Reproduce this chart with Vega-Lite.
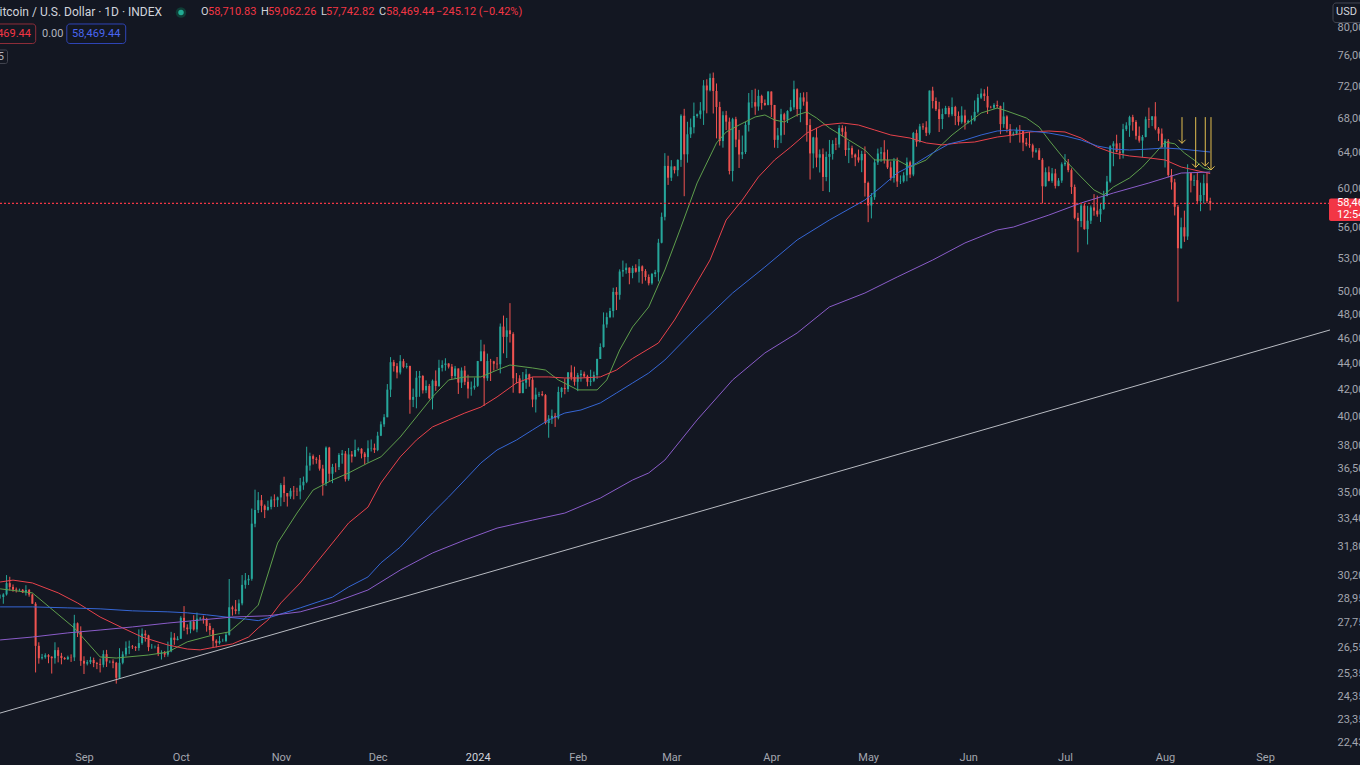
{
"$schema": "https://vega.github.io/schema/vega-lite/v6.json",
"width": 1330, "height": 745,
"autosize": {"type": "none"},
"padding": {"left": 0, "top": 0, "right": 30, "bottom": 20},
"background": "#131722",
"config": {"view": {"stroke": null}, "font": "Roboto"},
"datasets": {
"candles": [
{"d":"2023-08-06","o":29040,"h":29170,"l":28960,"c":29050},
{"d":"2023-08-07","o":29050,"h":29240,"l":28700,"c":29180},
{"d":"2023-08-08","o":29180,"h":30200,"l":29120,"c":29770},
{"d":"2023-08-09","o":29770,"h":30110,"l":29380,"c":29570},
{"d":"2023-08-10","o":29570,"h":29700,"l":29320,"c":29430},
{"d":"2023-08-11","o":29430,"h":29540,"l":29280,"c":29400},
{"d":"2023-08-12","o":29400,"h":29480,"l":29360,"c":29420},
{"d":"2023-08-13","o":29420,"h":29460,"l":29250,"c":29280},
{"d":"2023-08-14","o":29280,"h":29660,"l":29120,"c":29410},
{"d":"2023-08-15","o":29410,"h":29460,"l":29060,"c":29170},
{"d":"2023-08-16","o":29170,"h":29220,"l":28700,"c":28700},
{"d":"2023-08-17","o":28700,"h":28780,"l":25400,"c":26630},
{"d":"2023-08-18","o":26630,"h":26800,"l":25800,"c":26050},
{"d":"2023-08-19","o":26050,"h":26250,"l":25990,"c":26100},
{"d":"2023-08-20","o":26100,"h":26280,"l":26030,"c":26190},
{"d":"2023-08-21","o":26190,"h":26240,"l":25820,"c":26120},
{"d":"2023-08-22","o":26120,"h":26140,"l":25350,"c":26050},
{"d":"2023-08-23","o":26050,"h":26800,"l":25800,"c":26430},
{"d":"2023-08-24","o":26430,"h":26560,"l":25860,"c":26160},
{"d":"2023-08-25","o":26160,"h":26300,"l":25770,"c":26060},
{"d":"2023-08-26","o":26060,"h":26110,"l":25980,"c":26010},
{"d":"2023-08-27","o":26010,"h":26170,"l":25970,"c":26100},
{"d":"2023-08-28","o":26100,"h":26230,"l":25880,"c":26090},
{"d":"2023-08-29","o":26090,"h":28140,"l":25920,"c":27720},
{"d":"2023-08-30","o":27720,"h":27760,"l":27050,"c":27300},
{"d":"2023-08-31","o":27300,"h":27570,"l":25700,"c":25930},
{"d":"2023-09-01","o":25930,"h":26140,"l":25330,"c":25800},
{"d":"2023-09-02","o":25800,"h":25970,"l":25720,"c":25870},
{"d":"2023-09-03","o":25870,"h":26120,"l":25780,"c":25970},
{"d":"2023-09-04","o":25970,"h":26080,"l":25640,"c":25830},
{"d":"2023-09-05","o":25830,"h":25880,"l":25550,"c":25790},
{"d":"2023-09-06","o":25790,"h":26030,"l":25400,"c":25750},
{"d":"2023-09-07","o":25750,"h":26420,"l":25630,"c":26240},
{"d":"2023-09-08","o":26240,"h":26440,"l":25650,"c":25900},
{"d":"2023-09-09","o":25900,"h":25950,"l":25820,"c":25900},
{"d":"2023-09-10","o":25900,"h":26000,"l":25590,"c":25840},
{"d":"2023-09-11","o":25840,"h":25880,"l":24900,"c":25160},
{"d":"2023-09-12","o":25160,"h":26520,"l":25140,"c":25840},
{"d":"2023-09-13","o":25840,"h":26370,"l":25770,"c":26230},
{"d":"2023-09-14","o":26230,"h":26840,"l":26130,"c":26540},
{"d":"2023-09-15","o":26540,"h":26880,"l":26240,"c":26600},
{"d":"2023-09-16","o":26600,"h":26670,"l":26480,"c":26570},
{"d":"2023-09-17","o":26570,"h":26620,"l":26390,"c":26530},
{"d":"2023-09-18","o":26530,"h":27420,"l":26400,"c":26760},
{"d":"2023-09-19","o":26760,"h":27470,"l":26680,"c":27210},
{"d":"2023-09-20","o":27210,"h":27380,"l":26830,"c":27130},
{"d":"2023-09-21","o":27130,"h":27160,"l":26380,"c":26570},
{"d":"2023-09-22","o":26570,"h":26720,"l":26490,"c":26580},
{"d":"2023-09-23","o":26580,"h":26640,"l":26510,"c":26580},
{"d":"2023-09-24","o":26580,"h":26720,"l":26150,"c":26250},
{"d":"2023-09-25","o":26250,"h":26420,"l":25990,"c":26300},
{"d":"2023-09-26","o":26300,"h":26390,"l":26100,"c":26220},
{"d":"2023-09-27","o":26220,"h":26830,"l":26120,"c":26370},
{"d":"2023-09-28","o":26370,"h":27300,"l":26330,"c":27020},
{"d":"2023-09-29","o":27020,"h":27240,"l":26680,"c":26910},
{"d":"2023-09-30","o":26910,"h":27090,"l":26890,"c":26970},
{"d":"2023-10-01","o":26970,"h":28070,"l":26960,"c":27990},
{"d":"2023-10-02","o":27990,"h":28580,"l":27350,"c":27510},
{"d":"2023-10-03","o":27510,"h":27670,"l":27180,"c":27430},
{"d":"2023-10-04","o":27430,"h":27830,"l":27230,"c":27800},
{"d":"2023-10-05","o":27800,"h":28120,"l":27360,"c":27420},
{"d":"2023-10-06","o":27420,"h":28250,"l":27280,"c":27950},
{"d":"2023-10-07","o":27950,"h":28030,"l":27880,"c":27970},
{"d":"2023-10-08","o":27970,"h":28100,"l":27700,"c":27940},
{"d":"2023-10-09","o":27940,"h":27990,"l":27310,"c":27590},
{"d":"2023-10-10","o":27590,"h":27730,"l":27150,"c":27390},
{"d":"2023-10-11","o":27390,"h":27480,"l":26570,"c":26870},
{"d":"2023-10-12","o":26870,"h":26940,"l":26560,"c":26760},
{"d":"2023-10-13","o":26760,"h":27100,"l":26700,"c":26860},
{"d":"2023-10-14","o":26860,"h":26970,"l":26820,"c":26860},
{"d":"2023-10-15","o":26860,"h":27280,"l":26800,"c":27160},
{"d":"2023-10-16","o":27160,"h":29990,"l":27120,"c":28520},
{"d":"2023-10-17","o":28520,"h":28600,"l":28100,"c":28420},
{"d":"2023-10-18","o":28420,"h":28890,"l":28170,"c":28330},
{"d":"2023-10-19","o":28330,"h":28920,"l":28160,"c":28720},
{"d":"2023-10-20","o":28720,"h":30200,"l":28620,"c":29680},
{"d":"2023-10-21","o":29680,"h":30310,"l":29480,"c":29920},
{"d":"2023-10-22","o":29920,"h":30200,"l":29670,"c":30000},
{"d":"2023-10-23","o":30000,"h":33990,"l":29900,"c":33090},
{"d":"2023-10-24","o":33090,"h":35150,"l":32880,"c":33900},
{"d":"2023-10-25","o":33900,"h":35000,"l":33720,"c":34500},
{"d":"2023-10-26","o":34500,"h":34820,"l":33770,"c":34160},
{"d":"2023-10-27","o":34160,"h":34240,"l":33420,"c":33910},
{"d":"2023-10-28","o":33910,"h":34470,"l":33860,"c":34090},
{"d":"2023-10-29","o":34090,"h":34730,"l":33940,"c":34540},
{"d":"2023-10-30","o":34540,"h":34860,"l":34080,"c":34500},
{"d":"2023-10-31","o":34500,"h":34720,"l":34090,"c":34670},
{"d":"2023-11-01","o":34670,"h":35560,"l":34130,"c":35440},
{"d":"2023-11-02","o":35440,"h":35970,"l":34390,"c":34940},
{"d":"2023-11-03","o":34940,"h":34940,"l":34110,"c":34730},
{"d":"2023-11-04","o":34730,"h":35250,"l":34580,"c":35080},
{"d":"2023-11-05","o":35080,"h":35380,"l":34550,"c":35050},
{"d":"2023-11-06","o":35050,"h":35270,"l":34760,"c":35040},
{"d":"2023-11-07","o":35040,"h":35890,"l":34550,"c":35420},
{"d":"2023-11-08","o":35420,"h":35980,"l":35140,"c":35650},
{"d":"2023-11-09","o":35650,"h":37940,"l":35560,"c":36690},
{"d":"2023-11-10","o":36690,"h":37540,"l":36360,"c":37310},
{"d":"2023-11-11","o":37310,"h":37420,"l":36760,"c":37130},
{"d":"2023-11-12","o":37130,"h":37240,"l":36810,"c":37070},
{"d":"2023-11-13","o":37070,"h":37390,"l":36360,"c":36490},
{"d":"2023-11-14","o":36490,"h":36740,"l":34780,"c":35540},
{"d":"2023-11-15","o":35540,"h":37960,"l":35380,"c":37880},
{"d":"2023-11-16","o":37880,"h":37930,"l":35640,"c":36160},
{"d":"2023-11-17","o":36160,"h":36800,"l":35560,"c":36600},
{"d":"2023-11-18","o":36600,"h":36840,"l":36260,"c":36590},
{"d":"2023-11-19","o":36590,"h":37510,"l":36400,"c":37390},
{"d":"2023-11-20","o":37390,"h":37720,"l":36810,"c":37480},
{"d":"2023-11-21","o":37480,"h":37650,"l":35660,"c":35810},
{"d":"2023-11-22","o":35810,"h":37850,"l":35710,"c":37420},
{"d":"2023-11-23","o":37420,"h":37650,"l":36890,"c":37290},
{"d":"2023-11-24","o":37290,"h":38420,"l":37260,"c":37720},
{"d":"2023-11-25","o":37720,"h":37900,"l":37620,"c":37800},
{"d":"2023-11-26","o":37800,"h":37840,"l":37160,"c":37480},
{"d":"2023-11-27","o":37480,"h":37590,"l":36760,"c":37250},
{"d":"2023-11-28","o":37250,"h":38370,"l":36880,"c":37830},
{"d":"2023-11-29","o":37830,"h":38430,"l":37620,"c":37860},
{"d":"2023-11-30","o":37860,"h":38150,"l":37520,"c":37720},
{"d":"2023-12-01","o":37720,"h":38960,"l":37640,"c":38690},
{"d":"2023-12-02","o":38690,"h":39680,"l":38660,"c":39480},
{"d":"2023-12-03","o":39480,"h":40200,"l":39300,"c":39980},
{"d":"2023-12-04","o":39980,"h":42410,"l":39980,"c":41990},
{"d":"2023-12-05","o":41990,"h":44490,"l":41440,"c":44090},
{"d":"2023-12-06","o":44090,"h":44270,"l":43360,"c":43780},
{"d":"2023-12-07","o":43780,"h":44020,"l":42840,"c":43290},
{"d":"2023-12-08","o":43290,"h":44650,"l":43140,"c":44170},
{"d":"2023-12-09","o":44170,"h":44350,"l":43620,"c":43730},
{"d":"2023-12-10","o":43730,"h":44020,"l":43600,"c":43790},
{"d":"2023-12-11","o":43790,"h":43820,"l":40230,"c":41240},
{"d":"2023-12-12","o":41240,"h":42070,"l":40710,"c":41450},
{"d":"2023-12-13","o":41450,"h":43410,"l":40620,"c":42890},
{"d":"2023-12-14","o":42890,"h":43410,"l":41460,"c":43020},
{"d":"2023-12-15","o":43020,"h":43090,"l":41700,"c":41940},
{"d":"2023-12-16","o":41940,"h":42690,"l":41730,"c":42270},
{"d":"2023-12-17","o":42270,"h":42420,"l":41270,"c":41360},
{"d":"2023-12-18","o":41360,"h":42750,"l":40540,"c":42660},
{"d":"2023-12-19","o":42660,"h":43450,"l":41900,"c":42260},
{"d":"2023-12-20","o":42260,"h":44280,"l":42200,"c":43650},
{"d":"2023-12-21","o":43650,"h":44240,"l":43370,"c":43870},
{"d":"2023-12-22","o":43870,"h":44400,"l":43430,"c":43990},
{"d":"2023-12-23","o":43990,"h":44010,"l":43600,"c":43740},
{"d":"2023-12-24","o":43740,"h":43950,"l":42800,"c":43020},
{"d":"2023-12-25","o":43020,"h":43800,"l":42790,"c":43600},
{"d":"2023-12-26","o":43600,"h":43600,"l":41670,"c":42520},
{"d":"2023-12-27","o":42520,"h":43680,"l":42110,"c":43440},
{"d":"2023-12-28","o":43440,"h":43800,"l":42330,"c":42580},
{"d":"2023-12-29","o":42580,"h":43120,"l":41340,"c":42070},
{"d":"2023-12-30","o":42070,"h":42600,"l":41540,"c":42140},
{"d":"2023-12-31","o":42140,"h":42900,"l":41990,"c":42280},
{"d":"2024-01-01","o":42280,"h":44190,"l":42190,"c":44180},
{"d":"2024-01-02","o":44180,"h":45880,"l":44160,"c":44950},
{"d":"2024-01-03","o":44950,"h":45500,"l":40800,"c":42850},
{"d":"2024-01-04","o":42850,"h":44770,"l":42650,"c":44180},
{"d":"2024-01-05","o":44180,"h":44350,"l":42640,"c":44160},
{"d":"2024-01-06","o":44160,"h":44200,"l":43440,"c":43970},
{"d":"2024-01-07","o":43970,"h":44500,"l":43580,"c":43930},
{"d":"2024-01-08","o":43930,"h":47230,"l":43220,"c":46970},
{"d":"2024-01-09","o":46970,"h":47900,"l":44790,"c":46120},
{"d":"2024-01-10","o":46120,"h":47700,"l":44420,"c":46660},
{"d":"2024-01-11","o":46660,"h":48970,"l":45660,"c":46350},
{"d":"2024-01-12","o":46350,"h":46500,"l":41760,"c":42850},
{"d":"2024-01-13","o":42850,"h":43250,"l":42450,"c":42840},
{"d":"2024-01-14","o":42840,"h":43080,"l":41720,"c":41730},
{"d":"2024-01-15","o":41730,"h":43330,"l":41730,"c":42510},
{"d":"2024-01-16","o":42510,"h":43570,"l":42050,"c":43150},
{"d":"2024-01-17","o":43150,"h":43200,"l":42210,"c":42740},
{"d":"2024-01-18","o":42740,"h":42930,"l":40700,"c":41260},
{"d":"2024-01-19","o":41260,"h":42140,"l":40320,"c":41620},
{"d":"2024-01-20","o":41620,"h":41830,"l":41450,"c":41660},
{"d":"2024-01-21","o":41660,"h":41880,"l":41500,"c":41580},
{"d":"2024-01-22","o":41580,"h":41660,"l":39480,"c":39570},
{"d":"2024-01-23","o":39570,"h":40130,"l":38550,"c":39890},
{"d":"2024-01-24","o":39890,"h":40530,"l":39510,"c":40080},
{"d":"2024-01-25","o":40080,"h":40290,"l":39300,"c":39940},
{"d":"2024-01-26","o":39940,"h":42210,"l":39830,"c":41820},
{"d":"2024-01-27","o":41820,"h":42180,"l":41400,"c":42120},
{"d":"2024-01-28","o":42120,"h":42830,"l":41650,"c":42030},
{"d":"2024-01-29","o":42030,"h":43310,"l":41820,"c":43300},
{"d":"2024-01-30","o":43300,"h":43850,"l":42690,"c":42940},
{"d":"2024-01-31","o":42940,"h":43740,"l":42290,"c":42580},
{"d":"2024-02-01","o":42580,"h":43260,"l":41880,"c":43080},
{"d":"2024-02-02","o":43080,"h":43480,"l":42590,"c":43190},
{"d":"2024-02-03","o":43190,"h":43360,"l":42890,"c":42990},
{"d":"2024-02-04","o":42990,"h":43110,"l":42240,"c":42580},
{"d":"2024-02-05","o":42580,"h":43500,"l":42270,"c":42660},
{"d":"2024-02-06","o":42660,"h":43360,"l":42560,"c":43090},
{"d":"2024-02-07","o":43090,"h":44370,"l":42800,"c":44340},
{"d":"2024-02-08","o":44340,"h":45590,"l":44340,"c":45300},
{"d":"2024-02-09","o":45300,"h":48170,"l":45250,"c":47150},
{"d":"2024-02-10","o":47150,"h":48150,"l":46870,"c":47770},
{"d":"2024-02-11","o":47770,"h":48560,"l":47680,"c":48290},
{"d":"2024-02-12","o":48290,"h":50330,"l":47740,"c":49960},
{"d":"2024-02-13","o":49960,"h":50380,"l":48370,"c":49700},
{"d":"2024-02-14","o":49700,"h":52000,"l":49270,"c":51800},
{"d":"2024-02-15","o":51800,"h":52820,"l":51320,"c":51930},
{"d":"2024-02-16","o":51930,"h":52560,"l":51600,"c":52160},
{"d":"2024-02-17","o":52160,"h":52180,"l":50640,"c":51660},
{"d":"2024-02-18","o":51660,"h":52330,"l":51180,"c":52120},
{"d":"2024-02-19","o":52120,"h":52470,"l":51700,"c":51780},
{"d":"2024-02-20","o":51780,"h":52960,"l":50790,"c":52280},
{"d":"2024-02-21","o":52280,"h":52370,"l":50690,"c":51840},
{"d":"2024-02-22","o":51840,"h":52020,"l":50970,"c":51300},
{"d":"2024-02-23","o":51300,"h":51530,"l":50540,"c":50730},
{"d":"2024-02-24","o":50730,"h":51670,"l":50600,"c":51570},
{"d":"2024-02-25","o":51570,"h":51950,"l":51290,"c":51730},
{"d":"2024-02-26","o":51730,"h":54900,"l":50900,"c":54520},
{"d":"2024-02-27","o":54520,"h":57520,"l":54460,"c":57090},
{"d":"2024-02-28","o":57090,"h":63930,"l":56730,"c":62500},
{"d":"2024-02-29","o":62500,"h":63640,"l":60420,"c":61200},
{"d":"2024-03-01","o":61200,"h":63140,"l":60840,"c":62440},
{"d":"2024-03-02","o":62440,"h":62440,"l":61660,"c":62030},
{"d":"2024-03-03","o":62030,"h":63230,"l":61360,"c":63170},
{"d":"2024-03-04","o":63170,"h":68510,"l":62390,"c":68330},
{"d":"2024-03-05","o":68330,"h":69170,"l":59220,"c":63800},
{"d":"2024-03-06","o":63800,"h":67600,"l":62860,"c":66110},
{"d":"2024-03-07","o":66110,"h":67990,"l":65680,"c":66940},
{"d":"2024-03-08","o":66940,"h":69950,"l":66220,"c":68300},
{"d":"2024-03-09","o":68300,"h":68590,"l":68090,"c":68500},
{"d":"2024-03-10","o":68500,"h":70000,"l":67960,"c":68960},
{"d":"2024-03-11","o":68960,"h":72800,"l":67220,"c":72100},
{"d":"2024-03-12","o":72100,"h":72900,"l":68620,"c":71480},
{"d":"2024-03-13","o":71480,"h":73650,"l":71340,"c":73080},
{"d":"2024-03-14","o":73080,"h":73780,"l":68600,"c":71400},
{"d":"2024-03-15","o":71400,"h":72360,"l":65630,"c":69400},
{"d":"2024-03-16","o":69400,"h":70040,"l":64800,"c":65320},
{"d":"2024-03-17","o":65320,"h":68870,"l":64560,"c":68390},
{"d":"2024-03-18","o":68390,"h":68920,"l":66600,"c":67610},
{"d":"2024-03-19","o":67610,"h":68100,"l":61560,"c":61930},
{"d":"2024-03-20","o":61930,"h":68080,"l":60800,"c":67910},
{"d":"2024-03-21","o":67910,"h":68200,"l":64610,"c":65490},
{"d":"2024-03-22","o":65490,"h":66630,"l":62270,"c":63780},
{"d":"2024-03-23","o":63780,"h":65960,"l":63270,"c":64060},
{"d":"2024-03-24","o":64060,"h":67590,"l":63830,"c":67230},
{"d":"2024-03-25","o":67230,"h":71140,"l":66440,"c":69960},
{"d":"2024-03-26","o":69960,"h":71530,"l":69300,"c":69990},
{"d":"2024-03-27","o":69990,"h":71690,"l":68440,"c":69460},
{"d":"2024-03-28","o":69460,"h":71550,"l":68940,"c":70780},
{"d":"2024-03-29","o":70780,"h":70930,"l":69070,"c":69890},
{"d":"2024-03-30","o":69890,"h":70330,"l":69540,"c":69650},
{"d":"2024-03-31","o":69650,"h":71370,"l":69600,"c":71330},
{"d":"2024-04-01","o":71330,"h":71350,"l":68170,"c":69650},
{"d":"2024-04-02","o":69650,"h":69650,"l":64550,"c":65460},
{"d":"2024-04-03","o":65460,"h":66870,"l":64510,"c":65980},
{"d":"2024-04-04","o":65980,"h":69170,"l":65080,"c":68510},
{"d":"2024-04-05","o":68510,"h":68690,"l":66050,"c":67840},
{"d":"2024-04-06","o":67840,"h":69000,"l":67450,"c":68900},
{"d":"2024-04-07","o":68900,"h":70280,"l":68830,"c":69360},
{"d":"2024-04-08","o":69360,"h":72720,"l":69060,"c":71620},
{"d":"2024-04-09","o":71620,"h":71740,"l":68240,"c":69140},
{"d":"2024-04-10","o":69140,"h":71160,"l":67540,"c":70590},
{"d":"2024-04-11","o":70590,"h":71230,"l":69560,"c":70060},
{"d":"2024-04-12","o":70060,"h":71260,"l":65250,"c":67200},
{"d":"2024-04-13","o":67200,"h":67930,"l":61000,"c":63900},
{"d":"2024-04-14","o":63900,"h":65820,"l":62230,"c":65740},
{"d":"2024-04-15","o":65740,"h":66880,"l":62350,"c":63420},
{"d":"2024-04-16","o":63420,"h":64350,"l":61770,"c":63810},
{"d":"2024-04-17","o":63810,"h":64470,"l":59770,"c":61280},
{"d":"2024-04-18","o":61280,"h":64110,"l":60820,"c":63510},
{"d":"2024-04-19","o":63510,"h":65450,"l":59650,"c":63840},
{"d":"2024-04-20","o":63840,"h":65420,"l":63200,"c":64990},
{"d":"2024-04-21","o":64990,"h":65700,"l":64280,"c":64930},
{"d":"2024-04-22","o":64930,"h":67190,"l":64560,"c":66840},
{"d":"2024-04-23","o":66840,"h":67180,"l":65860,"c":66410},
{"d":"2024-04-24","o":66410,"h":67050,"l":63620,"c":64290},
{"d":"2024-04-25","o":64290,"h":65280,"l":62810,"c":64500},
{"d":"2024-04-26","o":64500,"h":64790,"l":63370,"c":63770},
{"d":"2024-04-27","o":63770,"h":63890,"l":62470,"c":63460},
{"d":"2024-04-28","o":63460,"h":64340,"l":62870,"c":63120},
{"d":"2024-04-29","o":63120,"h":64200,"l":61800,"c":63840},
{"d":"2024-04-30","o":63840,"h":64700,"l":59190,"c":60640},
{"d":"2024-05-01","o":60640,"h":60780,"l":56550,"c":58250},
{"d":"2024-05-02","o":58250,"h":59560,"l":56930,"c":59120},
{"d":"2024-05-03","o":59120,"h":63290,"l":58840,"c":62890},
{"d":"2024-05-04","o":62890,"h":64450,"l":62600,"c":63890},
{"d":"2024-05-05","o":63890,"h":64610,"l":62950,"c":64030},
{"d":"2024-05-06","o":64030,"h":65420,"l":62760,"c":63160},
{"d":"2024-05-07","o":63160,"h":64330,"l":62160,"c":62330},
{"d":"2024-05-08","o":62330,"h":62990,"l":60890,"c":61190},
{"d":"2024-05-09","o":61190,"h":63390,"l":60670,"c":63050},
{"d":"2024-05-10","o":63050,"h":63430,"l":60200,"c":60790},
{"d":"2024-05-11","o":60790,"h":61450,"l":60520,"c":60820},
{"d":"2024-05-12","o":60820,"h":61800,"l":60670,"c":61460},
{"d":"2024-05-13","o":61460,"h":63430,"l":60810,"c":62900},
{"d":"2024-05-14","o":62900,"h":63080,"l":61180,"c":61550},
{"d":"2024-05-15","o":61550,"h":66390,"l":61360,"c":66250},
{"d":"2024-05-16","o":66250,"h":66660,"l":64670,"c":65230},
{"d":"2024-05-17","o":65230,"h":67350,"l":65160,"c":67050},
{"d":"2024-05-18","o":67050,"h":67420,"l":66640,"c":66940},
{"d":"2024-05-19","o":66940,"h":67660,"l":65900,"c":66280},
{"d":"2024-05-20","o":66280,"h":71460,"l":66070,"c":71450},
{"d":"2024-05-21","o":71450,"h":71940,"l":69220,"c":70140},
{"d":"2024-05-22","o":70140,"h":70590,"l":68900,"c":69120},
{"d":"2024-05-23","o":69120,"h":70040,"l":66380,"c":67930},
{"d":"2024-05-24","o":67930,"h":69200,"l":66720,"c":68530},
{"d":"2024-05-25","o":68530,"h":69540,"l":68510,"c":69280},
{"d":"2024-05-26","o":69280,"h":69500,"l":68140,"c":68500},
{"d":"2024-05-27","o":68500,"h":70580,"l":68270,"c":69390},
{"d":"2024-05-28","o":69390,"h":69540,"l":67200,"c":68300},
{"d":"2024-05-29","o":68300,"h":68850,"l":67150,"c":67590},
{"d":"2024-05-30","o":67590,"h":69480,"l":67370,"c":68360},
{"d":"2024-05-31","o":68360,"h":69060,"l":66670,"c":67490},
{"d":"2024-06-01","o":67490,"h":67840,"l":67390,"c":67710},
{"d":"2024-06-02","o":67710,"h":68350,"l":67280,"c":67750},
{"d":"2024-06-03","o":67750,"h":70210,"l":67640,"c":68800},
{"d":"2024-06-04","o":68800,"h":71020,"l":68590,"c":70560},
{"d":"2024-06-05","o":70560,"h":71720,"l":70380,"c":71080},
{"d":"2024-06-06","o":71080,"h":71620,"l":70140,"c":70760},
{"d":"2024-06-07","o":70760,"h":71960,"l":68540,"c":69340},
{"d":"2024-06-08","o":69340,"h":69540,"l":69230,"c":69310},
{"d":"2024-06-09","o":69310,"h":69860,"l":69140,"c":69650},
{"d":"2024-06-10","o":69650,"h":70180,"l":69230,"c":69510},
{"d":"2024-06-11","o":69510,"h":69560,"l":66120,"c":67320},
{"d":"2024-06-12","o":67320,"h":69980,"l":66880,"c":68240},
{"d":"2024-06-13","o":68240,"h":68380,"l":66330,"c":66750},
{"d":"2024-06-14","o":66750,"h":67320,"l":65120,"c":66010},
{"d":"2024-06-15","o":66010,"h":66430,"l":65940,"c":66190},
{"d":"2024-06-16","o":66190,"h":66920,"l":66010,"c":66640},
{"d":"2024-06-17","o":66640,"h":67200,"l":65140,"c":66490},
{"d":"2024-06-18","o":66490,"h":66490,"l":64160,"c":65140},
{"d":"2024-06-19","o":65140,"h":65670,"l":64720,"c":64960},
{"d":"2024-06-20","o":64960,"h":66400,"l":64540,"c":64830},
{"d":"2024-06-21","o":64830,"h":65020,"l":63420,"c":64100},
{"d":"2024-06-22","o":64100,"h":64510,"l":63970,"c":64250},
{"d":"2024-06-23","o":64250,"h":64510,"l":63180,"c":63180},
{"d":"2024-06-24","o":63180,"h":63370,"l":58470,"c":60280},
{"d":"2024-06-25","o":60280,"h":62320,"l":60230,"c":61800},
{"d":"2024-06-26","o":61800,"h":62440,"l":60800,"c":60860},
{"d":"2024-06-27","o":60860,"h":62270,"l":60650,"c":61670},
{"d":"2024-06-28","o":61670,"h":62170,"l":60040,"c":60320},
{"d":"2024-06-29","o":60320,"h":61160,"l":60280,"c":60890},
{"d":"2024-06-30","o":60890,"h":62890,"l":60640,"c":62680},
{"d":"2024-07-01","o":62680,"h":63820,"l":62470,"c":62850},
{"d":"2024-07-02","o":62850,"h":63270,"l":61800,"c":62030},
{"d":"2024-07-03","o":62030,"h":62230,"l":59460,"c":60200},
{"d":"2024-07-04","o":60200,"h":60460,"l":56840,"c":56990},
{"d":"2024-07-05","o":56990,"h":57500,"l":53600,"c":56660},
{"d":"2024-07-06","o":56660,"h":58460,"l":56050,"c":58240},
{"d":"2024-07-07","o":58240,"h":58440,"l":55800,"c":55850},
{"d":"2024-07-08","o":55850,"h":58220,"l":54350,"c":56700},
{"d":"2024-07-09","o":56700,"h":58250,"l":56370,"c":58050},
{"d":"2024-07-10","o":58050,"h":59440,"l":57200,"c":57720},
{"d":"2024-07-11","o":57720,"h":59280,"l":57100,"c":57340},
{"d":"2024-07-12","o":57340,"h":58460,"l":56570,"c":57900},
{"d":"2024-07-13","o":57900,"h":59790,"l":57790,"c":59230},
{"d":"2024-07-14","o":59230,"h":61400,"l":59220,"c":60790},
{"d":"2024-07-15","o":60790,"h":64840,"l":60650,"c":64720},
{"d":"2024-07-16","o":64720,"h":65300,"l":62460,"c":65040},
{"d":"2024-07-17","o":65040,"h":66060,"l":64020,"c":64090},
{"d":"2024-07-18","o":64090,"h":65090,"l":63250,"c":63970},
{"d":"2024-07-19","o":63970,"h":67350,"l":63330,"c":66710},
{"d":"2024-07-20","o":66710,"h":67540,"l":66490,"c":67160},
{"d":"2024-07-21","o":67160,"h":68330,"l":65810,"c":68160},
{"d":"2024-07-22","o":68160,"h":68440,"l":66540,"c":67580},
{"d":"2024-07-23","o":67580,"h":67800,"l":65490,"c":65930},
{"d":"2024-07-24","o":65930,"h":67030,"l":65140,"c":65370},
{"d":"2024-07-25","o":65370,"h":66030,"l":63470,"c":65800},
{"d":"2024-07-26","o":65800,"h":68220,"l":65750,"c":67900},
{"d":"2024-07-27","o":67900,"h":69320,"l":66870,"c":67810},
{"d":"2024-07-28","o":67810,"h":68290,"l":67080,"c":68250},
{"d":"2024-07-29","o":68250,"h":70000,"l":66590,"c":66780},
{"d":"2024-07-30","o":66780,"h":66970,"l":65330,"c":66190},
{"d":"2024-07-31","o":66190,"h":66800,"l":64540,"c":64620},
{"d":"2024-08-01","o":64620,"h":65580,"l":62320,"c":65350},
{"d":"2024-08-02","o":65350,"h":65560,"l":61260,"c":61500},
{"d":"2024-08-03","o":61500,"h":62160,"l":59920,"c":60700},
{"d":"2024-08-04","o":60700,"h":61080,"l":57230,"c":58120},
{"d":"2024-08-05","o":58120,"h":58300,"l":49100,"c":53990},
{"d":"2024-08-06","o":53990,"h":57000,"l":53950,"c":56040},
{"d":"2024-08-07","o":56040,"h":57720,"l":54600,"c":55130},
{"d":"2024-08-08","o":55130,"h":62680,"l":54790,"c":61710},
{"d":"2024-08-09","o":61710,"h":61740,"l":59620,"c":60880},
{"d":"2024-08-10","o":60880,"h":61470,"l":60310,"c":60940},
{"d":"2024-08-11","o":60940,"h":61840,"l":58390,"c":58710},
{"d":"2024-08-12","o":58710,"h":60660,"l":57660,"c":59350},
{"d":"2024-08-13","o":59350,"h":61550,"l":58470,"c":60600},
{"d":"2024-08-14","o":60600,"h":61780,"l":58530,"c":58711},
{"d":"2024-08-15","o":58710.83,"h":59062.26,"l":57742.82,"c":58469.44}
],
"ma": [
{"s":"EMA 20","d":"2023-08-06","v":29470},{"s":"EMA 20","d":"2023-08-16","v":29260},{"s":"EMA 20","d":"2023-08-29","v":27490},{"s":"EMA 20","d":"2023-09-06","v":26110},{"s":"EMA 20","d":"2023-09-11","v":26060},{"s":"EMA 20","d":"2023-09-21","v":26200},{"s":"EMA 20","d":"2023-09-27","v":26340},{"s":"EMA 20","d":"2023-10-03","v":26820},{"s":"EMA 20","d":"2023-10-11","v":27150},{"s":"EMA 20","d":"2023-10-16","v":27300},{"s":"EMA 20","d":"2023-10-21","v":27980},{"s":"EMA 20","d":"2023-10-25","v":28630},{"s":"EMA 20","d":"2023-10-31","v":31970},{"s":"EMA 20","d":"2023-11-06","v":33720},{"s":"EMA 20","d":"2023-11-11","v":35130},{"s":"EMA 20","d":"2023-11-17","v":35760},{"s":"EMA 20","d":"2023-11-22","v":36210},{"s":"EMA 20","d":"2023-11-28","v":36860},{"s":"EMA 20","d":"2023-12-02","v":37260},{"s":"EMA 20","d":"2023-12-08","v":38600},{"s":"EMA 20","d":"2023-12-13","v":40000},{"s":"EMA 20","d":"2023-12-18","v":41450},{"s":"EMA 20","d":"2023-12-23","v":42720},{"s":"EMA 20","d":"2023-12-28","v":42950},{"s":"EMA 20","d":"2024-01-02","v":42950},{"s":"EMA 20","d":"2024-01-07","v":43480},{"s":"EMA 20","d":"2024-01-11","v":43870},{"s":"EMA 20","d":"2024-01-18","v":43640},{"s":"EMA 20","d":"2024-01-22","v":43480},{"s":"EMA 20","d":"2024-01-26","v":42720},{"s":"EMA 20","d":"2024-02-01","v":41970},{"s":"EMA 20","d":"2024-02-07","v":41970},{"s":"EMA 20","d":"2024-02-10","v":42720},{"s":"EMA 20","d":"2024-02-14","v":45060},{"s":"EMA 20","d":"2024-02-18","v":46940},{"s":"EMA 20","d":"2024-02-23","v":48640},{"s":"EMA 20","d":"2024-02-28","v":51940},{"s":"EMA 20","d":"2024-03-04","v":56060},{"s":"EMA 20","d":"2024-03-09","v":60630},{"s":"EMA 20","d":"2024-03-15","v":65100},{"s":"EMA 20","d":"2024-03-18","v":66380},{"s":"EMA 20","d":"2024-03-22","v":67210},{"s":"EMA 20","d":"2024-03-27","v":68180},{"s":"EMA 20","d":"2024-03-30","v":68420},{"s":"EMA 20","d":"2024-04-02","v":67810},{"s":"EMA 20","d":"2024-04-05","v":67570},{"s":"EMA 20","d":"2024-04-09","v":68420},{"s":"EMA 20","d":"2024-04-12","v":68790},{"s":"EMA 20","d":"2024-04-15","v":68060},{"s":"EMA 20","d":"2024-04-19","v":66860},{"s":"EMA 20","d":"2024-04-25","v":65440},{"s":"EMA 20","d":"2024-04-30","v":64290},{"s":"EMA 20","d":"2024-05-03","v":63160},{"s":"EMA 20","d":"2024-05-07","v":63160},{"s":"EMA 20","d":"2024-05-10","v":63160},{"s":"EMA 20","d":"2024-05-14","v":62380},{"s":"EMA 20","d":"2024-05-19","v":63160},{"s":"EMA 20","d":"2024-05-23","v":64630},{"s":"EMA 20","d":"2024-05-27","v":66030},{"s":"EMA 20","d":"2024-05-31","v":67210},{"s":"EMA 20","d":"2024-06-05","v":68660},{"s":"EMA 20","d":"2024-06-10","v":69270},{"s":"EMA 20","d":"2024-06-13","v":68900},{"s":"EMA 20","d":"2024-06-19","v":68060},{"s":"EMA 20","d":"2024-06-23","v":66970},{"s":"EMA 20","d":"2024-06-26","v":65440},{"s":"EMA 20","d":"2024-07-01","v":63160},{"s":"EMA 20","d":"2024-07-06","v":61280},{"s":"EMA 20","d":"2024-07-10","v":59880},{"s":"EMA 20","d":"2024-07-13","v":59350},{"s":"EMA 20","d":"2024-07-16","v":60200},{"s":"EMA 20","d":"2024-07-21","v":61170},{"s":"EMA 20","d":"2024-07-25","v":62380},{"s":"EMA 20","d":"2024-07-29","v":63950},{"s":"EMA 20","d":"2024-08-01","v":65210},{"s":"EMA 20","d":"2024-08-04","v":65000},{"s":"EMA 20","d":"2024-08-07","v":63950},{"s":"EMA 20","d":"2024-08-10","v":63160},{"s":"EMA 20","d":"2024-08-13","v":62270},{"s":"EMA 20","d":"2024-08-15","v":62050},
{"s":"EMA 50","d":"2023-08-06","v":29830},{"s":"EMA 50","d":"2023-08-10","v":29930},{"s":"EMA 50","d":"2023-08-16","v":29780},{"s":"EMA 50","d":"2023-08-24","v":29260},{"s":"EMA 50","d":"2023-08-30","v":28740},{"s":"EMA 50","d":"2023-09-06","v":28030},{"s":"EMA 50","d":"2023-09-13","v":27490},{"s":"EMA 50","d":"2023-09-19","v":27050},{"s":"EMA 50","d":"2023-09-27","v":26670},{"s":"EMA 50","d":"2023-10-03","v":26480},{"s":"EMA 50","d":"2023-10-07","v":26440},{"s":"EMA 50","d":"2023-10-12","v":26580},{"s":"EMA 50","d":"2023-10-17","v":26720},{"s":"EMA 50","d":"2023-10-22","v":27050},{"s":"EMA 50","d":"2023-10-25","v":27490},{"s":"EMA 50","d":"2023-10-28","v":27880},{"s":"EMA 50","d":"2023-11-01","v":28740},{"s":"EMA 50","d":"2023-11-07","v":29780},{"s":"EMA 50","d":"2023-11-12","v":30860},{"s":"EMA 50","d":"2023-11-17","v":31970},{"s":"EMA 50","d":"2023-11-22","v":33130},{"s":"EMA 50","d":"2023-11-28","v":34080},{"s":"EMA 50","d":"2023-12-02","v":35570},{"s":"EMA 50","d":"2023-12-08","v":37260},{"s":"EMA 50","d":"2023-12-13","v":38390},{"s":"EMA 50","d":"2023-12-18","v":39300},{"s":"EMA 50","d":"2023-12-23","v":39790},{"s":"EMA 50","d":"2023-12-28","v":40280},{"s":"EMA 50","d":"2024-01-02","v":40710},{"s":"EMA 50","d":"2024-01-07","v":41450},{"s":"EMA 50","d":"2024-01-13","v":42490},{"s":"EMA 50","d":"2024-01-18","v":42950},{"s":"EMA 50","d":"2024-01-23","v":42950},{"s":"EMA 50","d":"2024-01-28","v":42870},{"s":"EMA 50","d":"2024-02-02","v":42870},{"s":"EMA 50","d":"2024-02-08","v":42950},{"s":"EMA 50","d":"2024-02-13","v":43480},{"s":"EMA 50","d":"2024-02-18","v":44380},{"s":"EMA 50","d":"2024-02-26","v":45620},{"s":"EMA 50","d":"2024-03-02","v":47530},{"s":"EMA 50","d":"2024-03-07","v":49860},{"s":"EMA 50","d":"2024-03-13","v":52870},{"s":"EMA 50","d":"2024-03-18","v":56770},{"s":"EMA 50","d":"2024-03-23","v":58820},{"s":"EMA 50","d":"2024-03-28","v":61280},{"s":"EMA 50","d":"2024-04-02","v":63160},{"s":"EMA 50","d":"2024-04-07","v":64630},{"s":"EMA 50","d":"2024-04-12","v":66260},{"s":"EMA 50","d":"2024-04-17","v":67210},{"s":"EMA 50","d":"2024-04-23","v":67450},{"s":"EMA 50","d":"2024-04-28","v":67210},{"s":"EMA 50","d":"2024-05-03","v":66620},{"s":"EMA 50","d":"2024-05-08","v":66030},{"s":"EMA 50","d":"2024-05-14","v":65670},{"s":"EMA 50","d":"2024-05-19","v":65100},{"s":"EMA 50","d":"2024-05-24","v":64870},{"s":"EMA 50","d":"2024-05-29","v":65100},{"s":"EMA 50","d":"2024-06-03","v":65210},{"s":"EMA 50","d":"2024-06-10","v":65790},{"s":"EMA 50","d":"2024-06-15","v":66030},{"s":"EMA 50","d":"2024-06-20","v":66380},{"s":"EMA 50","d":"2024-06-26","v":66500},{"s":"EMA 50","d":"2024-07-01","v":66380},{"s":"EMA 50","d":"2024-07-06","v":65670},{"s":"EMA 50","d":"2024-07-11","v":64630},{"s":"EMA 50","d":"2024-07-16","v":63950},{"s":"EMA 50","d":"2024-07-21","v":63610},{"s":"EMA 50","d":"2024-07-27","v":63390},{"s":"EMA 50","d":"2024-08-01","v":63160},{"s":"EMA 50","d":"2024-08-06","v":62380},{"s":"EMA 50","d":"2024-08-10","v":62050},{"s":"EMA 50","d":"2024-08-15","v":61650},
{"s":"EMA 100","d":"2023-08-06","v":28540},{"s":"EMA 100","d":"2023-08-16","v":28540},{"s":"EMA 100","d":"2023-08-27","v":28490},{"s":"EMA 100","d":"2023-09-06","v":28440},{"s":"EMA 100","d":"2023-09-16","v":28340},{"s":"EMA 100","d":"2023-09-27","v":28290},{"s":"EMA 100","d":"2023-10-03","v":28240},{"s":"EMA 100","d":"2023-10-09","v":28140},{"s":"EMA 100","d":"2023-10-15","v":28030},{"s":"EMA 100","d":"2023-10-21","v":27930},{"s":"EMA 100","d":"2023-10-25","v":27850},{"s":"EMA 100","d":"2023-10-28","v":27980},{"s":"EMA 100","d":"2023-11-07","v":28490},{"s":"EMA 100","d":"2023-11-17","v":29040},{"s":"EMA 100","d":"2023-11-22","v":29570},{"s":"EMA 100","d":"2023-11-28","v":30100},{"s":"EMA 100","d":"2023-12-02","v":30860},{"s":"EMA 100","d":"2023-12-08","v":31740},{"s":"EMA 100","d":"2023-12-13","v":32720},{"s":"EMA 100","d":"2023-12-18","v":33720},{"s":"EMA 100","d":"2023-12-23","v":34700},{"s":"EMA 100","d":"2023-12-28","v":35760},{"s":"EMA 100","d":"2024-01-02","v":36860},{"s":"EMA 100","d":"2024-01-07","v":37720},{"s":"EMA 100","d":"2024-01-13","v":38390},{"s":"EMA 100","d":"2024-01-18","v":39090},{"s":"EMA 100","d":"2024-01-23","v":39790},{"s":"EMA 100","d":"2024-01-28","v":40280},{"s":"EMA 100","d":"2024-02-02","v":40500},{"s":"EMA 100","d":"2024-02-08","v":41010},{"s":"EMA 100","d":"2024-02-13","v":41740},{"s":"EMA 100","d":"2024-02-18","v":42490},{"s":"EMA 100","d":"2024-02-23","v":43250},{"s":"EMA 100","d":"2024-02-28","v":44260},{"s":"EMA 100","d":"2024-03-09","v":46940},{"s":"EMA 100","d":"2024-03-20","v":49860},{"s":"EMA 100","d":"2024-03-30","v":52220},{"s":"EMA 100","d":"2024-04-09","v":54790},{"s":"EMA 100","d":"2024-04-19","v":56770},{"s":"EMA 100","d":"2024-04-30","v":58820},{"s":"EMA 100","d":"2024-05-05","v":60200},{"s":"EMA 100","d":"2024-05-10","v":61710},{"s":"EMA 100","d":"2024-05-16","v":62820},{"s":"EMA 100","d":"2024-05-21","v":63950},{"s":"EMA 100","d":"2024-05-26","v":64980},{"s":"EMA 100","d":"2024-05-31","v":65440},{"s":"EMA 100","d":"2024-06-05","v":66030},{"s":"EMA 100","d":"2024-06-10","v":66500},{"s":"EMA 100","d":"2024-06-15","v":66620},{"s":"EMA 100","d":"2024-06-20","v":66500},{"s":"EMA 100","d":"2024-06-26","v":66260},{"s":"EMA 100","d":"2024-07-01","v":65910},{"s":"EMA 100","d":"2024-07-06","v":65440},{"s":"EMA 100","d":"2024-07-11","v":64750},{"s":"EMA 100","d":"2024-07-16","v":64400},{"s":"EMA 100","d":"2024-07-21","v":64290},{"s":"EMA 100","d":"2024-07-27","v":64400},{"s":"EMA 100","d":"2024-08-01","v":64520},{"s":"EMA 100","d":"2024-08-06","v":64400},{"s":"EMA 100","d":"2024-08-15","v":64060},
{"s":"EMA 200","d":"2023-08-06","v":26910},{"s":"EMA 200","d":"2023-08-16","v":27050},{"s":"EMA 200","d":"2023-08-27","v":27250},{"s":"EMA 200","d":"2023-09-06","v":27390},{"s":"EMA 200","d":"2023-09-16","v":27540},{"s":"EMA 200","d":"2023-09-27","v":27730},{"s":"EMA 200","d":"2023-10-07","v":27880},{"s":"EMA 200","d":"2023-10-17","v":28030},{"s":"EMA 200","d":"2023-10-28","v":28090},{"s":"EMA 200","d":"2023-11-07","v":28290},{"s":"EMA 200","d":"2023-11-17","v":28740},{"s":"EMA 200","d":"2023-11-28","v":29410},{"s":"EMA 200","d":"2023-12-08","v":30470},{"s":"EMA 200","d":"2023-12-18","v":31410},{"s":"EMA 200","d":"2023-12-28","v":32140},{"s":"EMA 200","d":"2024-01-07","v":32830},{"s":"EMA 200","d":"2024-01-18","v":33300},{"s":"EMA 200","d":"2024-01-28","v":33720},{"s":"EMA 200","d":"2024-02-08","v":34630},{"s":"EMA 200","d":"2024-02-18","v":35760},{"s":"EMA 200","d":"2024-02-23","v":36210},{"s":"EMA 200","d":"2024-02-28","v":37050},{"s":"EMA 200","d":"2024-03-09","v":39790},{"s":"EMA 200","d":"2024-03-20","v":42720},{"s":"EMA 200","d":"2024-03-30","v":44820},{"s":"EMA 200","d":"2024-04-09","v":46440},{"s":"EMA 200","d":"2024-04-19","v":48640},{"s":"EMA 200","d":"2024-04-30","v":49860},{"s":"EMA 200","d":"2024-05-10","v":51300},{"s":"EMA 200","d":"2024-05-21","v":52870},{"s":"EMA 200","d":"2024-05-31","v":54500},{"s":"EMA 200","d":"2024-06-10","v":55770},{"s":"EMA 200","d":"2024-06-15","v":56060},{"s":"EMA 200","d":"2024-06-26","v":57270},{"s":"EMA 200","d":"2024-07-06","v":58510},{"s":"EMA 200","d":"2024-07-16","v":59560},{"s":"EMA 200","d":"2024-07-27","v":60630},{"s":"EMA 200","d":"2024-08-06","v":61710},{"s":"EMA 200","d":"2024-08-15","v":61820}
],
"trend": [
{"d":"2023-08-05T23:17:00Z","v":23630},
{"d":"2024-09-21T02:53:00Z","v":46690}
],
"arrows": [
{"d":"2024-08-06T06:14:00Z","top":68160,"tip":65060},
{"d":"2024-08-10T12:00:00Z","top":68160,"tip":62340},
{"d":"2024-08-13T11:17:00Z","top":68160,"tip":62490},
{"d":"2024-08-15T05:45:00Z","top":68160,"tip":62050}
]
},
"layer": [
{
"data": {"name": "candles"},
"mark": {"type": "rule", "strokeWidth": 1},
"encoding": {
"x": {"field": "d", "type": "temporal",
 "scale": {"type": "utc", "nice": false, "padding": 0, "domain": [{"year":2023,"month":8,"date":5,"hours":23,"minutes":17,"utc":true},{"year":2024,"month":9,"date":21,"hours":2,"minutes":53,"utc":true}]},
 "axis": {"title": null, "grid": false, "ticks": false, "domain": false, "labelPadding": 6, "labelFontSize": 11, "labelFont": "Roboto",
  "labelColor": {"condition": {"test": "utcmonth(datum.value) == 0", "value": "#d1d4dc"}, "value": "#a3a6af"},
  "values": [{"year":2023,"month":9,"date":1,"utc":true},{"year":2023,"month":10,"date":1,"utc":true},{"year":2023,"month":11,"date":1,"utc":true},{"year":2023,"month":12,"date":1,"utc":true},{"year":2024,"month":1,"date":1,"utc":true},{"year":2024,"month":2,"date":1,"utc":true},{"year":2024,"month":3,"date":1,"utc":true},{"year":2024,"month":4,"date":1,"utc":true},{"year":2024,"month":5,"date":1,"utc":true},{"year":2024,"month":6,"date":1,"utc":true},{"year":2024,"month":7,"date":1,"utc":true},{"year":2024,"month":8,"date":1,"utc":true},{"year":2024,"month":9,"date":1,"utc":true}],
  "labelExpr": "utcmonth(datum.value) == 0 ? utcFormat(datum.value, '%Y') : utcFormat(datum.value, '%b')",
  "labelOverlap": false}},
"y": {"field": "l", "type": "quantitative",
 "scale": {"type": "log", "domain": [22327, 83934], "nice": false, "padding": 0},
 "axis": {"orient": "right", "title": null, "grid": false, "ticks": false, "domain": false, "labelPadding": 7, "labelFontSize": 11, "labelFont": "Roboto", "labelColor": "#a3a6af", "labelAlign": "left", "labelBaseline": "middle", "labelOverlap": false, "labelBound": false, "labelFlush": false, "format": ",.2f",
  "values": [80000,76000,72000,68000,64000,60000,56000,53000,50000,48000,46000,44000,42000,40000,38000,36500,35000,33400,31800,30200,28950,27750,26550,25350,24350,23350,22430]}},
"y2": {"field": "h"},
"color": {"condition": {"test": "datum.c >= datum.o", "value": "#26a69a"}, "value": "#ef5350"}
}
},
{
"data": {"name": "candles"},
"mark": {"type": "bar", "width": 2},
"encoding": {
"x": {"field": "d", "type": "temporal", "title": null},
"y": {"field": "o", "type": "quantitative", "title": null},
"y2": {"field": "c"},
"color": {"condition": {"test": "datum.c >= datum.o", "value": "#26a69a"}, "value": "#ef5350"}
}
},
{
"data": {"name": "ma"},
"mark": {"type": "line", "strokeWidth": 1},
"encoding": {
"x": {"field": "d", "type": "temporal", "title": null},
"y": {"field": "v", "type": "quantitative", "title": null},
"color": {"field": "s", "type": "nominal", "legend": null,
 "scale": {"domain": ["EMA 20","EMA 50","EMA 100","EMA 200"], "range": ["#5e9e4c","#e8424b","#3566d4","#8a5cc9"]}}
}
},
{
"data": {"name": "trend"},
"mark": {"type": "line", "strokeWidth": 1, "color": "#b8bbc2"},
"encoding": {
"x": {"field": "d", "type": "temporal", "title": null},
"y": {"field": "v", "type": "quantitative", "title": null}
}
},
{
"data": {"values": [{}]},
"mark": {"type": "rule", "color": "#f23645", "strokeDash": [2, 2], "strokeWidth": 1.2},
"encoding": {"y": {"datum": 58469.44, "type": "quantitative", "title": null}}
},
{
"data": {"name": "arrows"},
"mark": {"type": "rule", "color": "#e2be4f", "strokeWidth": 1},
"encoding": {
"x": {"field": "d", "type": "temporal", "title": null},
"y": {"field": "top", "type": "quantitative", "title": null},
"y2": {"field": "tip"}
}
},
{
"data": {"name": "arrows"},
"mark": {"type": "point", "shape": "M-1,-1L0,0L1,-1", "filled": false, "size": 50, "strokeWidth": 1, "color": "#e2be4f", "opacity": 1},
"encoding": {
"x": {"field": "d", "type": "temporal", "title": null},
"y": {"field": "tip", "type": "quantitative", "title": null}
}
},
{
"data": {"values": [{}]},
"layer": [
{"mark": {"type": "text", "text": "Bitcoin / U.S. Dollar · 1D · INDEX", "align": "left", "baseline": "middle", "fontSize": 12, "color": "#d1d4dc"},
 "encoding": {"x": {"datum": {"year":2023,"month":8,"date":3,"hours":11,"minutes":47,"utc":true}, "type": "temporal", "title": null}, "y": {"datum": 82090, "type": "quantitative", "title": null}}},
{"mark": {"type": "point", "filled": true, "size": 110, "color": "#0f3d36", "opacity": 1},
 "encoding": {"x": {"datum": {"year":2023,"month":10,"date":1,"hours":1,"minutes":25,"utc":true}, "type": "temporal", "title": null}, "y": {"datum": 82090, "type": "quantitative", "title": null}}},
{"mark": {"type": "point", "filled": true, "size": 30, "color": "#22ab94", "opacity": 1},
 "encoding": {"x": {"datum": {"year":2023,"month":10,"date":1,"hours":1,"minutes":25,"utc":true}, "type": "temporal", "title": null}, "y": {"datum": 82090, "type": "quantitative", "title": null}}},
{"mark": {"type": "text", "text": "O", "align": "left", "baseline": "middle", "fontSize": 11, "color": "#d1d4dc"},
 "encoding": {"x": {"datum": {"year":2023,"month":10,"date":7,"hours":6,"minutes":10,"utc":true}, "type": "temporal", "title": null}, "y": {"datum": 82090, "type": "quantitative", "title": null}}},
{"mark": {"type": "text", "text": "58,710.83", "align": "left", "baseline": "middle", "fontSize": 11, "color": "#f23645"},
 "encoding": {"x": {"datum": {"year":2023,"month":10,"date":9,"hours":10,"minutes":14,"utc":true}, "type": "temporal", "title": null}, "y": {"datum": 82090, "type": "quantitative", "title": null}}},
{"mark": {"type": "text", "text": "H", "align": "left", "baseline": "middle", "fontSize": 11, "color": "#d1d4dc"},
 "encoding": {"x": {"datum": {"year":2023,"month":10,"date":25,"hours":20,"minutes":24,"utc":true}, "type": "temporal", "title": null}, "y": {"datum": 82090, "type": "quantitative", "title": null}}},
{"mark": {"type": "text", "text": "59,062.26", "align": "left", "baseline": "middle", "fontSize": 11, "color": "#f23645"},
 "encoding": {"x": {"datum": {"year":2023,"month":10,"date":28,"hours":0,"minutes":28,"utc":true}, "type": "temporal", "title": null}, "y": {"datum": 82090, "type": "quantitative", "title": null}}},
{"mark": {"type": "text", "text": "L", "align": "left", "baseline": "middle", "fontSize": 11, "color": "#d1d4dc"},
 "encoding": {"x": {"datum": {"year":2023,"month":11,"date":13,"hours":10,"minutes":38,"utc":true}, "type": "temporal", "title": null}, "y": {"datum": 82090, "type": "quantitative", "title": null}}},
{"mark": {"type": "text", "text": "57,742.82", "align": "left", "baseline": "middle", "fontSize": 11, "color": "#f23645"},
 "encoding": {"x": {"datum": {"year":2023,"month":11,"date":14,"hours":23,"minutes":49,"utc":true}, "type": "temporal", "title": null}, "y": {"datum": 82090, "type": "quantitative", "title": null}}},
{"mark": {"type": "text", "text": "C", "align": "left", "baseline": "middle", "fontSize": 11, "color": "#d1d4dc"},
 "encoding": {"x": {"datum": {"year":2023,"month":12,"date":1,"hours":10,"minutes":0,"utc":true}, "type": "temporal", "title": null}, "y": {"datum": 82090, "type": "quantitative", "title": null}}},
{"mark": {"type": "text", "text": "58,469.44", "align": "left", "baseline": "middle", "fontSize": 11, "color": "#f23645"},
 "encoding": {"x": {"datum": {"year":2023,"month":12,"date":3,"hours":14,"minutes":4,"utc":true}, "type": "temporal", "title": null}, "y": {"datum": 82090, "type": "quantitative", "title": null}}},
{"mark": {"type": "text", "text": "−245.12 (−0.42%)", "align": "left", "baseline": "middle", "fontSize": 11, "color": "#f23645"},
 "encoding": {"x": {"datum": {"year":2023,"month":12,"date":19,"hours":1,"minutes":55,"utc":true}, "type": "temporal", "title": null}, "y": {"datum": 82090, "type": "quantitative", "title": null}}},
{"mark": {"type": "rect", "fill": "#131722", "stroke": "#8f2e3a", "strokeWidth": 1, "cornerRadius": 3},
 "encoding": {"x": {"datum": {"year":2023,"month":7,"date":29,"hours":5,"minutes":21,"utc":true}, "type": "temporal", "title": null}, "x2": {"datum": {"year":2023,"month":8,"date":17,"hours":0,"minutes":48,"utc":true}}, "y": {"datum": 80430, "type": "quantitative", "title": null}, "y2": {"datum": 77690}}},
{"mark": {"type": "text", "text": "58,469.44", "align": "right", "baseline": "middle", "fontSize": 11, "color": "#f23645"},
 "encoding": {"x": {"datum": {"year":2023,"month":8,"date":15,"hours":13,"minutes":47,"utc":true}, "type": "temporal", "title": null}, "y": {"datum": 79010, "type": "quantitative", "title": null}}},
{"mark": {"type": "text", "text": "0.00", "align": "left", "baseline": "middle", "fontSize": 11, "color": "#b2b5be"},
 "encoding": {"x": {"datum": {"year":2023,"month":8,"date":18,"hours":23,"minutes":39,"utc":true}, "type": "temporal", "title": null}, "y": {"datum": 79010, "type": "quantitative", "title": null}}},
{"mark": {"type": "rect", "fill": "#131722", "stroke": "#2f45b8", "strokeWidth": 1, "cornerRadius": 3},
 "encoding": {"x": {"datum": {"year":2023,"month":8,"date":26,"hours":16,"minutes":5,"utc":true}, "type": "temporal", "title": null}, "x2": {"datum": {"year":2023,"month":9,"date":13,"hours":22,"minutes":6,"utc":true}}, "y": {"datum": 80430, "type": "quantitative", "title": null}, "y2": {"datum": 77690}}},
{"mark": {"type": "text", "text": "58,469.44", "align": "left", "baseline": "middle", "fontSize": 11, "color": "#4a66f0"},
 "encoding": {"x": {"datum": {"year":2023,"month":8,"date":28,"hours":6,"minutes":46,"utc":true}, "type": "temporal", "title": null}, "y": {"datum": 79010, "type": "quantitative", "title": null}}},
{"mark": {"type": "rect", "fill": "#131722", "stroke": "#434651", "strokeWidth": 1, "cornerRadius": 2},
 "encoding": {"x": {"datum": {"year":2023,"month":7,"date":30,"hours":18,"minutes":32,"utc":true}, "type": "temporal", "title": null}, "x2": {"datum": {"year":2023,"month":8,"date":8,"hours":7,"minutes":5,"utc":true}}, "y": {"datum": 76800, "type": "quantitative", "title": null}, "y2": {"datum": 74980}}},
{"mark": {"type": "text", "text": "5", "align": "right", "baseline": "middle", "fontSize": 11, "color": "#b2b5be"},
 "encoding": {"x": {"datum": {"year":2023,"month":8,"date":7,"hours":5,"minutes":3,"utc":true}, "type": "temporal", "title": null}, "y": {"datum": 75850, "type": "quantitative", "title": null}}},
{"mark": {"type": "rect", "fill": "#131722", "stroke": "#434651", "strokeWidth": 1, "cornerRadius": 3},
 "encoding": {"x": {"datum": {"year":2024,"month":9,"date":22,"hours":1,"minutes":13,"utc":true}, "type": "temporal", "title": null}, "x2": {"datum": {"year":2024,"month":10,"date":19,"utc":true}}, "y": {"datum": 83490, "type": "quantitative", "title": null}, "y2": {"datum": 80640}}},
{"mark": {"type": "text", "text": "USD", "align": "left", "baseline": "middle", "fontSize": 11, "color": "#d1d4dc"},
 "encoding": {"x": {"datum": {"year":2024,"month":9,"date":22,"hours":23,"minutes":30,"utc":true}, "type": "temporal", "title": null}, "y": {"datum": 82160, "type": "quantitative", "title": null}}},
{"mark": {"type": "rect", "fill": "#f23645", "cornerRadius": 2},
 "encoding": {"x": {"datum": {"year":2024,"month":9,"date":20,"hours":19,"minutes":25,"utc":true}, "type": "temporal", "title": null}, "x2": {"datum": {"year":2024,"month":10,"date":19,"utc":true}}, "y": {"datum": 58980, "type": "quantitative", "title": null}, "y2": {"datum": 56670}}},
{"mark": {"type": "text", "text": "58,469.44", "align": "left", "baseline": "middle", "fontSize": 11, "color": "#ffffff"},
 "encoding": {"x": {"datum": {"year":2024,"month":9,"date":23,"hours":6,"minutes":56,"utc":true}, "type": "temporal", "title": null}, "y": {"datum": 58460, "type": "quantitative", "title": null}}},
{"mark": {"type": "text", "text": "12:54:21", "align": "left", "baseline": "middle", "fontSize": 11, "color": "#ffffff"},
 "encoding": {"x": {"datum": {"year":2024,"month":9,"date":23,"hours":6,"minutes":56,"utc":true}, "type": "temporal", "title": null}, "y": {"datum": 57280, "type": "quantitative", "title": null}}}
]
}
]
}
